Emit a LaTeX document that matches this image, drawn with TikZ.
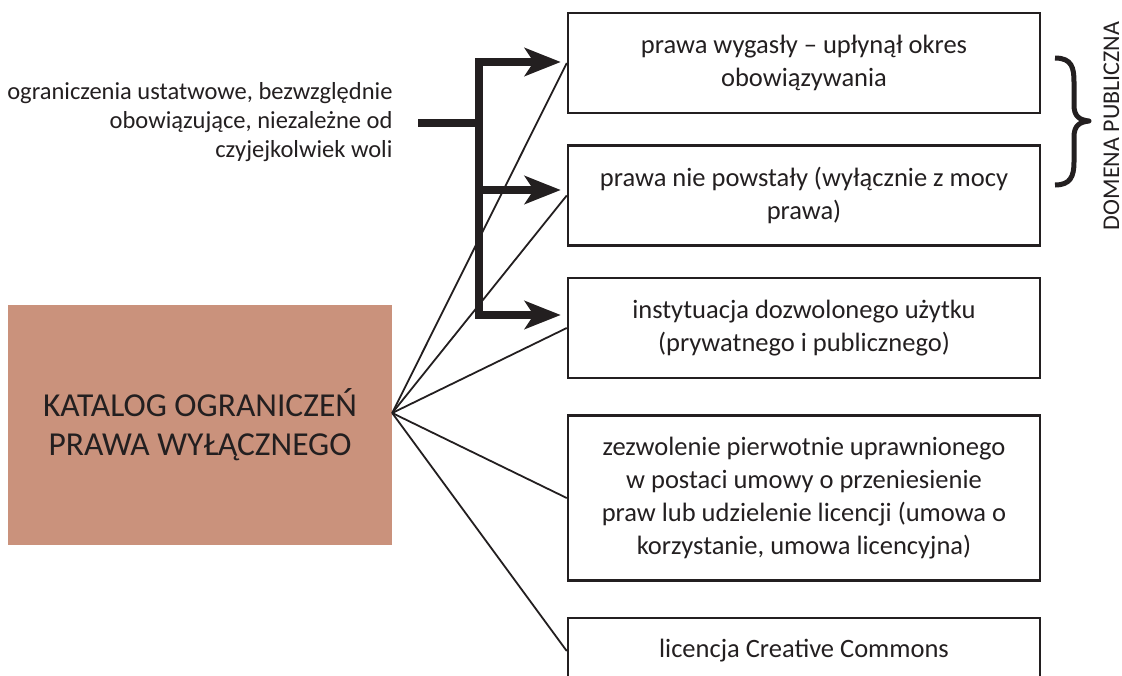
\documentclass[tikz,border=0pt]{standalone}
\usepackage{fontspec}
\setmainfont{Carlito}
\usetikzlibrary{arrows.meta,calc,positioning}
\definecolor{ink}{RGB}{35,31,32}
\definecolor{clay}{RGB}{202,146,124}
\tikzset{
        block/.style = {draw=ink, line width=2.5pt, rectangle,
            minimum width=472pt, minimum height=100pt,
            align=center, text=ink,
            font=\fontsize{26.5}{33}\selectfont},
        mainbox/.style = {fill=clay, rectangle,
            minimum width=384pt, minimum height=240pt,
            align=center, text=ink,
            font=\fontsize{33.5}{39}\selectfont},
        fan/.style = {draw=ink, line width=1.8pt},
        bar/.style = {draw=ink, line width=8pt, line cap=rect},
        bararrow/.style = {bar, -{Stealth[length=36pt,width=28pt,inset=9pt]},
            shorten >=6pt},
    }

\begin{document}
\begin{tikzpicture}[x=1pt,y=1pt]
        \useasboundingbox (0,0) rectangle (1122,-675);

        % boxes on the right
        \node[block] (b1) at (804,-63) {prawa wygasły – upłynął okres\\obowiązywania};
        \node[block, below=30pt of b1] (b2) {prawa nie powstały (wyłącznie z mocy\\prawa)};
        \node[block, below=30pt of b2] (b3) {instytuacja dozwolonego użytku\\(prywatnego i publicznego)};
        \node[block, below=35pt of b3, minimum height=165pt] (b4) {zezwolenie pierwotnie uprawnionego\\w postaci umowy o przeniesienie\\praw lub udzielenie licencji (umowa o\\korzystanie, umowa licencyjna)};
        \node[block, below=35pt of b4, minimum height=66pt] (b5) {licencja Creative Commons};

        % catalogue box
        \node[mainbox] (kat) at (200,-425) {KATALOG OGRANICZEŃ\\PRAWA WYŁĄCZNEGO};
        \coordinate (hub) at ([yshift=12pt]kat.east);
        \foreach \b in {b1,b2,b3,b4,b5}
            \draw[fan] (hub) -- (\b.west);

        % statutory limits
        \node[anchor=east, align=right, text=ink,
              font=\fontsize{24.5}{29}\selectfont] (limits) at (396,-122)
              {ograniczenia ustatwowe, bezwzględnie\\obowiązujące, niezależne od\\czyjejkolwiek woli};
        \coordinate (fork) at (479,-123);
        \coordinate (top) at (479,-62);
        \coordinate (mid) at (479,-190);
        \coordinate (bot) at (479,-315);
        \draw[bar] ([xshift=26pt]limits.east |- fork) -- (fork);
        \draw[bar] (top) -- (bot);
        \foreach \c/\b in {top/b1, mid/b2, bot/b3}
            \draw[bararrow] (\c) -- (\c -| \b.west);

        % public domain brace
        \draw[ink, line width=5pt, line join=round]
            (1055,-58) .. controls (1072,-58) and (1074,-68) .. (1074,-82)
            -- (1074,-105) .. controls (1074,-116) and (1079,-120) .. (1089,-121)
            .. controls (1079,-122) and (1074,-126) .. (1074,-137)
            -- (1074,-162) .. controls (1074,-177) and (1070,-185) .. (1055,-185);
        \node[rotate=90, anchor=base, inner sep=0pt, text=ink,
              font=\fontsize{24}{29}\selectfont] (domena)
            at (1119,-126) {DOMENA PUBLICZNA};
\end{tikzpicture}
\end{document}
